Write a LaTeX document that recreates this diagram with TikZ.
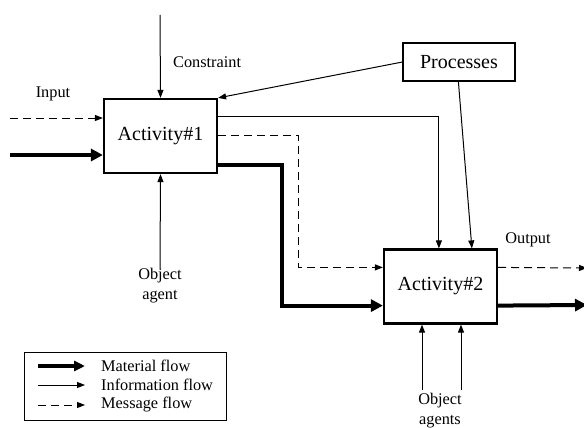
\documentclass[tikz,border=0pt]{standalone}
\usepackage{fontspec}
\setmainfont{Liberation Serif}
\usetikzlibrary{arrows.meta}
\begin{document}
\begin{tikzpicture}[x=1pt,y=-1pt,
  activity/.style={draw,line width=2.2pt,minimum width=113pt,minimum height=74pt,inner sep=0pt,font=\fontsize{20}{24}\selectfont},
  procbox/.style={draw,line width=1.2pt,minimum width=112pt,minimum height=38pt,inner sep=0pt,font=\fontsize{20}{24}\selectfont},
  lbl/.style={font=\fontsize{16.3}{20}\selectfont,align=center,inner sep=0pt},
  material/.style={line width=4pt,-{Triangle[length=12pt,width=12pt]}},
  information/.style={line width=1pt,-{Triangle[length=8pt,width=6pt]}},
  message/.style={line width=1pt,dash pattern=on 8pt off 5pt,-{Triangle[length=8pt,width=6pt]}}]
\useasboundingbox (0,0) rectangle (584,428);

% activity boxes and the process box
\node[activity] (a1) at (160.5,136) {Activity\#1};
\node[activity] (a2) at (440.5,286.5) {Activity\#2};
\node[procbox] (proc) at (459,62) {Processes};

% free ends of the boundary arrows
\coordinate (ctop) at (160,15);
\coordinate (inmsg) at (10,118);
\coordinate (inmat) at (10,155);
\coordinate (agent1) at (160,268);
\coordinate (agent2a) at (422,390);
\coordinate (agent2b) at (461,390);
\coordinate (outmsg) at (587,268);
\coordinate (outmat) at (587,305);

% labels
\node[lbl,anchor=west] (lconstraint) at (173,62) {Constraint};
\node[lbl] (linput) at (53,94) {Input};
\node[lbl] (loutput) at (528,240) {Output};
\node[lbl] (lagent1) at (160,286) {Object\\agent};
\node[lbl] (lagent2) at (440,411) {Object\\agents};

% arrows into and out of Activity#1
\draw[information] (ctop) -- (a1.north);
\draw[message] (inmsg) -- (inmsg -| a1.west);
\draw[material] (inmat) -- (inmat -| a1.west);
\draw[information] (agent1) -- (a1.south);
\draw[information] (proc.west) -- (a1.north east);

% links from Activity#1 to Activity#2
\draw[information] ([yshift=-18.5pt]a1.north east) -| ([xshift=56pt]a2.north west);
\draw[message] ([yshift=-37.5pt]a1.north east) -- ++(80,0) |- ([yshift=-19pt]a2.north west);
\draw[material] ([yshift=9pt]a1.south east) -- ++(64,0) |- ([yshift=19pt]a2.south west);
\draw[information] ([xshift=56pt]proc.south west) -- ([xshift=89pt]a2.north west);

% arrows into and out of Activity#2
\draw[information] (agent2a) -- (agent2a |- a2.south);
\draw[information] (agent2b) -- (agent2b |- a2.south);
\draw[message] ([yshift=-19pt]a2.north east) -- (outmsg);
\draw[material] ([yshift=19pt]a2.south east) -- (outmat);

% legend
\node[draw,line width=1pt,minimum width=202pt,minimum height=68pt,inner sep=0pt] (legend) at (125,386) {};
\coordinate (k1a) at (38,366); \coordinate (k1b) at (85,366);
\coordinate (k2a) at (38,385); \coordinate (k2b) at (85,385);
\coordinate (k3a) at (38,405); \coordinate (k3b) at (85,405);
\draw[line width=3.2pt,-{Triangle[length=11pt,width=10pt]}] (k1a) -- (k1b);
\draw[information] (k2a) -- (k2b);
\draw[message] (k3a) -- (k3b);
\node[lbl,anchor=west] (lmat) at (101,366) {Material flow};
\node[lbl,anchor=west] (linf) at (101,385) {Information flow};
\node[lbl,anchor=west] (lmsg) at (101,405) {Message flow};
\end{tikzpicture}
\end{document}
